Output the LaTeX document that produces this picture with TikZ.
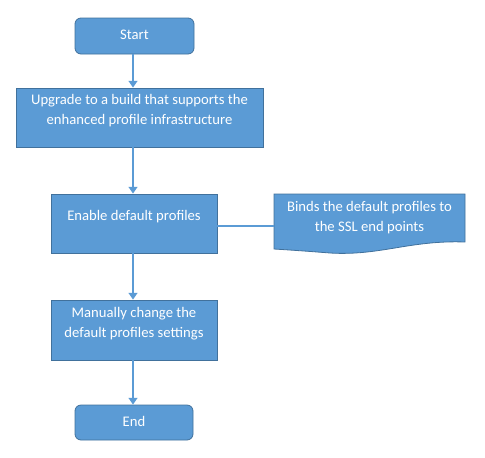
\documentclass[tikz,border=0pt]{standalone}
\usepackage{fontspec}
\setmainfont{Carlito}
\usetikzlibrary{arrows.meta}
\definecolor{boxfill}{HTML}{5B9BD5}
\definecolor{boxedge}{HTML}{41719C}
\definecolor{linecol}{HTML}{5B9BD5}
\begin{document}
\begin{tikzpicture}[x=0.75pt,y=-0.75pt,
  box/.style={draw=boxedge,fill=boxfill,line width=0.6pt,inner sep=0pt},
  term/.style={box,rounded corners=4.5pt},
  txt/.style={text=white,font=\fontsize{11}{15}\selectfont,align=center,inner sep=0pt},
  conn/.style={draw=linecol,line width=1.6pt,-{Triangle[length=5pt,width=6.5pt]}},
  plain/.style={draw=linecol,line width=1.6pt}]
\useasboundingbox (0,0) rectangle (485,457);
\node[term,minimum width=89.25pt,minimum height=27pt] (start) at (134.5,36) {};
\node[txt] (starttxt) at (134.5,35) {Start};
\node[box,minimum width=185.25pt,minimum height=44.25pt] (upg) at (139.5,117.5) {};
\node[txt] (upgtxt) at (139.5,111) {Upgrade to a build that supports the\\enhanced profile infrastructure};
\node[box,minimum width=124.5pt,minimum height=44.25pt] (ena) at (134,223.5) {};
\node[txt] (enatxt) at (134,217) {Enable default profiles};
\node[box,minimum width=124.5pt,minimum height=45pt] (man) at (134,330) {};
\node[txt] (mantxt) at (134,324) {Manually change the\\default profiles settings};
\node[term,minimum width=88.5pt,minimum height=26.25pt] (end) at (134,422.5) {};
\node[txt] (endtxt) at (134,421) {End};
% document shape
\coordinate (dtl) at (274,194);
\coordinate (dtr) at (465,194);
\coordinate (dbr) at (465,242);
\coordinate (dbl) at (274,249);
\draw[box] (dtl) -- (dtr) -- (dbr) .. controls (410,240) and (380,256) .. (330,253) .. controls (305,251) and (290,250) .. (dbl) -- cycle;
\coordinate (doc) at (369.5,218);
\node[txt] (doctxt) at (369.5,217.5) {Binds the default profiles to\\the SSL end points};
\coordinate (docl) at (274,226);
\draw[conn] (start.south -| 133,0) -- (upg.north -| 133,0);
\draw[conn] (upg.south -| 133,0) -- (ena.north -| 133,0);
\draw[conn] (ena.south -| 133,0) -- (man.north -| 133,0);
\draw[conn] (man.south -| 133,0) -- (end.north -| 133,0);
\draw[plain] (ena.east |- docl) -- (docl);
\end{tikzpicture}
\end{document}
